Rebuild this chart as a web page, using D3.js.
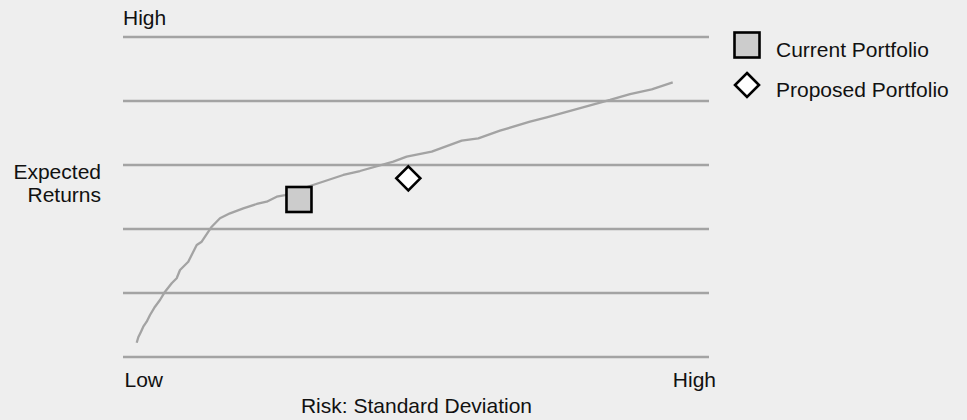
<!DOCTYPE html>
<html>
<head>
<meta charset="utf-8">
<script src="https://cdn.jsdelivr.net/npm/d3@7"></script>
<style>
  html, body { margin: 0; padding: 0; background: #eeeeee; }
  svg { display: block; }
  text { font-family: "Liberation Sans", Arial, Helvetica, sans-serif; fill: #111; }
</style>
</head>
<body>
<svg id="chart" width="967" height="420"></svg>
<script>
// Efficient frontier (risk, expected return) in chart units
const frontierRisk = [0.234,0.261,0.307,0.346,0.404,0.461,0.546,0.631,0.717,0.831,0.916,0.973,1.114,1.258,1.343,1.514,1.655,1.826,2.053,2.282,2.452,2.623,2.765,3.191,3.759,4.044,4.613,4.841,5.268,5.780,6.063,6.433,6.945,7.230,8.311,8.652,9.022,9.381];
const frontierReturn = [0.223,0.308,0.395,0.473,0.552,0.656,0.786,0.891,1.020,1.152,1.230,1.359,1.489,1.75,1.802,2.036,2.167,2.245,2.323,2.391,2.427,2.505,2.531,2.672,2.844,2.906,3.052,3.130,3.208,3.380,3.417,3.536,3.677,3.745,4.016,4.109,4.183,4.292];

const portfolioNames = ["Current Portfolio", "Proposed Portfolio"];
const portfolioRisk = [3.003, 4.869];
const portfolioReturn = [2.461, 2.792];

const gridLevels = [0, 1, 2, 3, 4, 5];
const xTickLabels = ["Low", "High"];
const yTickLabels = ["High"];
const xTitle = "Risk: Standard Deviation";
const yTitle = ["Expected", "Returns"];

const svg = d3.select("#chart");
const x = d3.scaleLinear().domain([0, 10]).range([123, 709]);
const y = d3.scaleLinear().domain([0, 5]).range([357, 37]);

const gridColor = "#a3a3a3";
const fs = 21;

// gridlines
svg.append("g").selectAll("line").data(gridLevels).join("line")
  .attr("x1", x(0)).attr("x2", x(10))
  .attr("y1", d => y(d)).attr("y2", d => y(d))
  .attr("stroke", gridColor).attr("stroke-width", 2.5);

// frontier curve
const pts = frontierRisk.map((r, i) => [r, frontierReturn[i]]);
svg.append("path")
  .datum(pts)
  .attr("fill", "none")
  .attr("stroke", gridColor)
  .attr("stroke-width", 2.3)
  .attr("stroke-linejoin", "round")
  .attr("d", d3.line().x(d => x(d[0])).y(d => y(d[1])));

// markers
const squareHalf = 12.5;
const diamondHalf = 12;
function drawMarker(g, type, cx, cy) {
  if (type === 0) {
    g.append("rect")
      .attr("x", cx - squareHalf).attr("y", cy - squareHalf)
      .attr("width", squareHalf * 2).attr("height", squareHalf * 2)
      .attr("fill", "#cccccc").attr("stroke", "#000").attr("stroke-width", 2.6);
  } else {
    g.append("path")
      .attr("d", `M${cx},${cy - diamondHalf}L${cx + diamondHalf},${cy}L${cx},${cy + diamondHalf}L${cx - diamondHalf},${cy}Z`)
      .attr("fill", "#ffffff").attr("stroke", "#000").attr("stroke-width", 2.6)
      .attr("stroke-linejoin", "miter");
  }
}
const mg = svg.append("g");
portfolioNames.forEach((n, i) => drawMarker(mg, i, x(portfolioRisk[i]), y(portfolioReturn[i])));

// legend
const lg = svg.append("g");
portfolioNames.forEach((n, i) => {
  const cy = 45 + i * 40;
  drawMarker(lg, i, 747, cy);
  lg.append("text").attr("x", 776).attr("y", cy + 12.3)
    .attr("font-size", fs).text(n);
});

// axis labels
svg.append("text").attr("x", x(0)).attr("y", 24.5).attr("font-size", fs).text(yTickLabels[0]);
svg.append("text").attr("x", x(0) + 1.5).attr("y", 387).attr("font-size", fs).text(xTickLabels[0]);
svg.append("text").attr("x", 716).attr("y", 387).attr("font-size", fs)
  .attr("text-anchor", "end").text(xTickLabels[1]);
svg.append("text").attr("x", 416.5).attr("y", 413).attr("font-size", fs)
  .attr("text-anchor", "middle").text(xTitle);
yTitle.forEach((t, i) => {
  svg.append("text").attr("x", 101).attr("y", 179 + i * 22.7).attr("font-size", fs)
    .attr("text-anchor", "end").text(t);
});
</script>
</body>
</html>
